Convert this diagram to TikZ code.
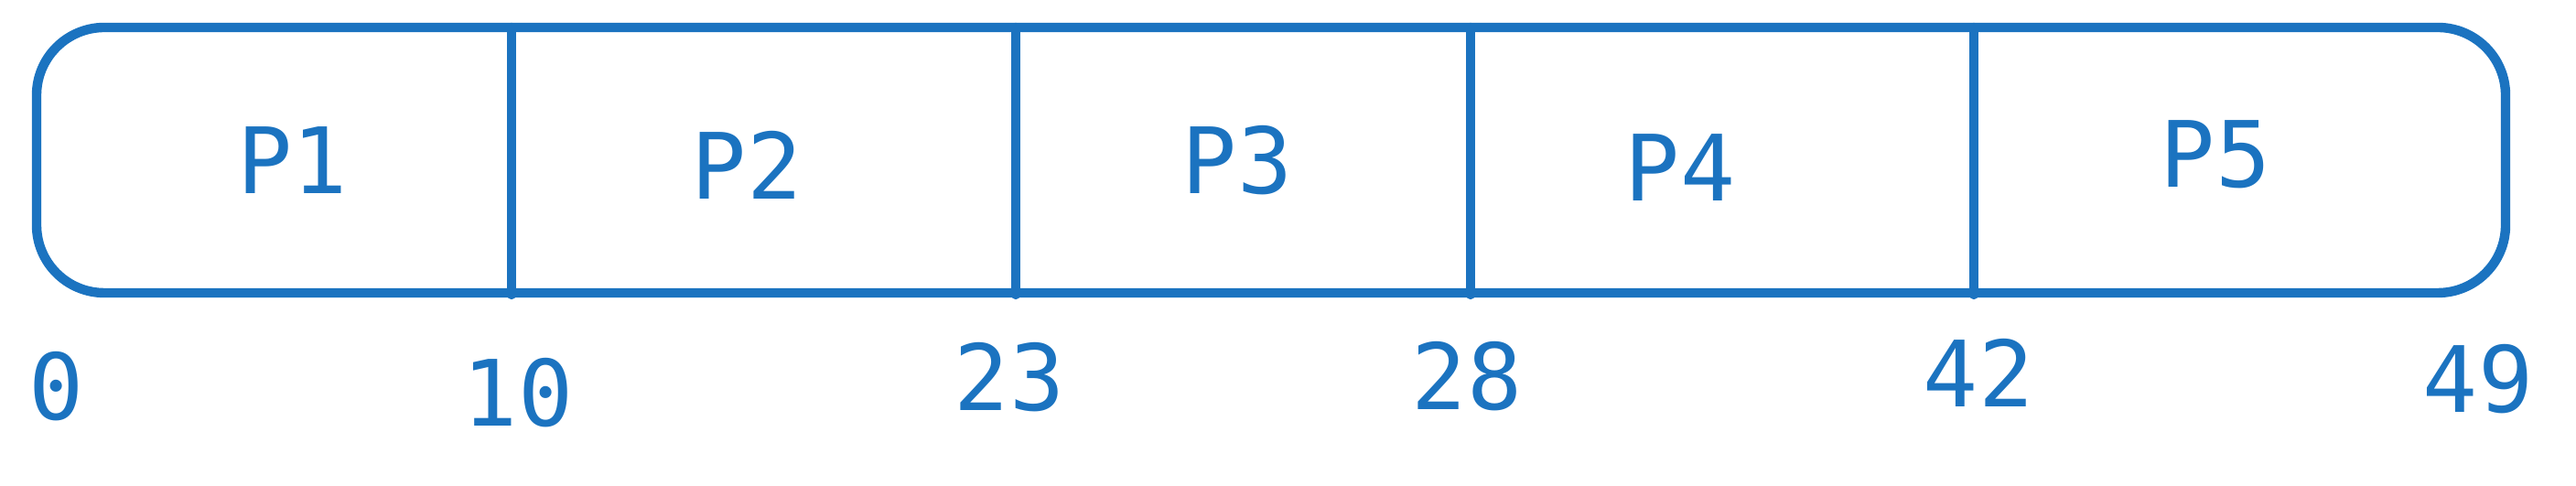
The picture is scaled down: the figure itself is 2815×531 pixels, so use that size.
\documentclass[tikz,border=0pt]{standalone}
\usepackage{fontspec}
\setmonofont{DejaVu Sans Mono}
\definecolor{ganttblue}{RGB}{27,115,192}

\begin{document}
\begin{tikzpicture}[x=0.25pt,y=-0.25pt,line width=2.6pt,
  bar/.style={draw=ganttblue,rounded corners=18.5pt},
  cut/.style={draw=ganttblue,line cap=round},
  every node/.style={text=ganttblue,inner sep=0pt,font=\ttfamily\fontsize{25}{30}\selectfont}]
\useasboundingbox (0,0) rectangle (2815,531);
\draw[bar] (40,30) rectangle (2738,320);
\coordinate (top1) at (559,30);  \coordinate (bot1) at (559,322);
\coordinate (top2) at (1110,30); \coordinate (bot2) at (1110,322);
\coordinate (top3) at (1607,30); \coordinate (bot3) at (1607,322);
\coordinate (top4) at (2157,30); \coordinate (bot4) at (2157,322);
\draw[cut] (top1) -- (bot1);
\draw[cut] (top2) -- (bot2);
\draw[cut] (top3) -- (bot3);
\draw[cut] (top4) -- (bot4);
\node (p1) at (320,175) {P1};
\node (p2) at (816,180) {P2};
\node (p3) at (1352,175) {P3};
\node (p4) at (1836,183) {P4};
\node (p5) at (2421,169) {P5};
\node (t0) at (62,422) {0};
\node (t10) at (566,429) {10};
\node (t23) at (1103,412) {23};
\node (t28) at (1603,411) {28};
\node (t42) at (2162,407) {42};
\node (t49) at (2708,414) {49};
\end{tikzpicture}
\end{document}
